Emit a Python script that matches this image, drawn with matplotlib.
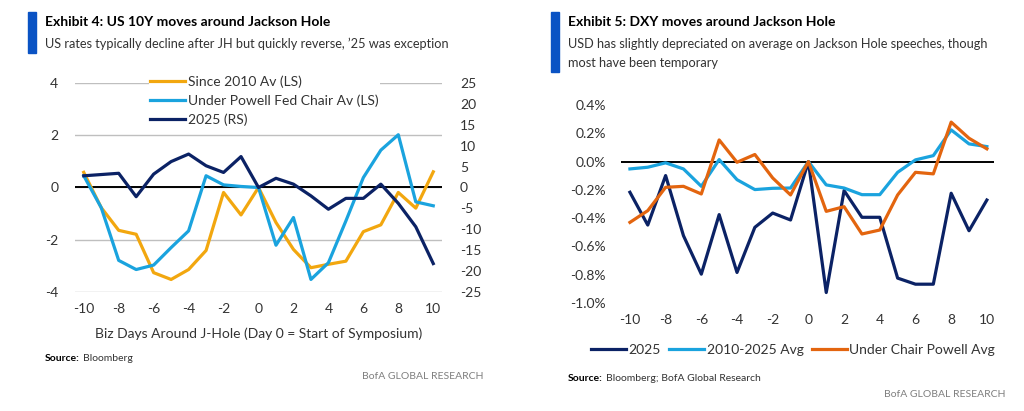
import matplotlib
matplotlib.use("Agg")
import matplotlib.pyplot as plt
from matplotlib.patches import Rectangle
from matplotlib.ticker import FuncFormatter

plt.rcParams['font.family'] = ['Lato', 'DejaVu Sans']
plt.rcParams['axes.unicode_minus'] = False

# ---------------- data ----------------
days = list(range(-10, 11))

# Exhibit 4: US 10Y (bp)
since2010_ls = [0.58, -0.77, -1.64, -1.79, -3.26, -3.52, -3.14, -2.41, -0.19, -1.05, 0.0,
                -1.34, -2.37, -3.07, -2.94, -2.82, -1.69, -1.43, -0.19, -0.79, 0.60]
powell_ls = [0.45, -0.77, -2.79, -3.14, -2.97, -2.30, -1.66, 0.45, 0.10, 0.04, 0.0,
             -2.21, -1.15, -3.52, -2.88, -1.28, 0.38, 1.43, 2.02, -0.55, -0.70]
y2025_rs = [2.8, 3.1, 3.4, -2.2, 3.2, 6.2, 8.0, 5.2, 3.6, 7.4, 0.0,
            2.2, 0.8, -2.0, -5.2, -2.6, -2.6, 0.8, -3.8, -9.4, -18.2]
left_ticks = [-4, -2, 0, 2, 4]
right_ticks = [-25, -20, -15, -10, -5, 0, 5, 10, 15, 20, 25]

# Exhibit 5: DXY (%)
dxy_2025 = [-0.217, -0.449, -0.099, -0.524, -0.796, -0.375, -0.784, -0.465, -0.364, -0.413, 0.0,
            -0.926, -0.205, -0.394, -0.394, -0.824, -0.867, -0.867, -0.224, -0.489, -0.272]
dxy_avg = [-0.052, -0.040, -0.009, -0.052, -0.175, 0.014, -0.128, -0.198, -0.189, -0.187, 0.0,
           -0.165, -0.187, -0.234, -0.234, -0.076, 0.012, 0.042, 0.224, 0.125, 0.106]
dxy_powell = [-0.430, -0.347, -0.182, -0.175, -0.229, 0.153, -0.005, 0.050, -0.116, -0.236, 0.0,
              -0.352, -0.319, -0.512, -0.484, -0.236, -0.076, -0.087, 0.279, 0.165, 0.090]
dxy_ticks = [-1.0, -0.8, -0.6, -0.4, -0.2, 0.0, 0.2, 0.4]
x_ticks = [-10, -8, -6, -4, -2, 0, 2, 4, 6, 8, 10]

# ---------------- style ----------------
W, H = 1024, 411
NAVY = '#0B2265'
LBLUE = '#1AA3DE'
GOLD = '#F2A70F'
ORANGE = '#E3650F'
TXT = '#333333'
BAR = '#0A53C4'
LW = 2.3

fig = plt.figure(figsize=(W / 100, H / 100), dpi=100)
fig.patch.set_facecolor('white')


def px_axes(x0, x1, ytop, ybot):
    return fig.add_axes([x0 / W, 1 - ybot / H, (x1 - x0) / W, (ybot - ytop) / H])


def fx(x):
    return x / W


def fy(y):
    return 1 - y / H


def clean(ax):
    for s in ax.spines.values():
        s.set_visible(False)
    ax.tick_params(length=0, labelsize=10, colors=TXT)


# ---------- headers ----------
fig.patches.append(Rectangle((fx(28), fy(53)), 8 / W, 41 / H, transform=fig.transFigure,
                             color=BAR, zorder=5))
fig.text(fx(45), fy(26), "Exhibit 4: US 10Y moves around Jackson Hole", fontsize=10,
         fontweight='bold', color='black', va='baseline')
fig.text(fx(45), fy(48), "US rates typically decline after JH but quickly reverse, \u201925 was exception",
         fontsize=9.2, color=TXT, va='baseline')

fig.patches.append(Rectangle((fx(551), fy(72)), 8 / W, 60 / H, transform=fig.transFigure,
                             color=BAR, zorder=5))
fig.text(fx(568), fy(26), "Exhibit 5: DXY moves around Jackson Hole", fontsize=10,
         fontweight='bold', color='black', va='baseline')
fig.text(fx(568), fy(48), "USD has slightly depreciated on average on Jackson Hole speeches, though",
         fontsize=9.2, color=TXT, va='baseline')
fig.text(fx(568), fy(67), "most have been temporary", fontsize=9.2, color=TXT, va='baseline')

# ---------- Exhibit 4 ----------
ax = px_axes(75, 442, 83, 292)
clean(ax)
ax.set_xlim(-10.5, 10.5)
ax.set_ylim(-4, 4)
ax.set_yticks(left_ticks)
ax.set_xticks(x_ticks)
ax.grid(axis='y', color='#BFBFBF', lw=1)
ax.set_axisbelow(True)
ax.axhline(0, color='black', lw=1.4, zorder=2)
ax.tick_params(axis='y', pad=12)
ax.tick_params(axis='x', pad=8)
ax2 = ax.twinx()
clean(ax2)
ax2.set_ylim(-25, 25)
ax2.set_yticks(right_ticks)
ax2.tick_params(axis='y', pad=13)
l1, = ax.plot(days, since2010_ls, color=GOLD, lw=LW, zorder=3, label='Since 2010 Av (LS)')
l2, = ax.plot(days, powell_ls, color=LBLUE, lw=LW, zorder=3, label='Under Powell Fed Chair Av (LS)')
l3, = ax2.plot(days, y2025_rs, color=NAVY, lw=LW, zorder=3, label='2025 (RS)')
ax.set_xlabel('Biz Days Around J-Hole (Day 0 = Start of Symposium)', fontsize=10, color=TXT, labelpad=9)
leg = ax2.legend(handles=[l1, l2, l3], loc='upper left', bbox_to_anchor=(fx(149), fy(74)),
                 bbox_transform=fig.transFigure, frameon=True, fontsize=10, handlelength=2.5,
                 handletextpad=0.2, labelspacing=0.45, borderpad=0.1, borderaxespad=0)
leg.get_frame().set_edgecolor('none')
leg.get_frame().set_facecolor('white')
leg.get_frame().set_alpha(1)
for t in leg.get_texts():
    t.set_color(TXT)

fig.text(fx(45), fy(361), "Source:", fontsize=7.5, fontweight='bold', color='black', va='baseline')
fig.text(fx(83), fy(361), "Bloomberg", fontsize=7.5, color=TXT, va='baseline')
fig.text(fx(483), fy(379), "BofA GLOBAL RESEARCH", fontsize=7.5, color='#7F7F7F', ha='right', va='baseline')

# ---------- Exhibit 5 ----------
bx = px_axes(621, 994, 105, 303)
clean(bx)
bx.set_xlim(-10.5, 10.4)
bx.set_ylim(-1.0, 0.4)
bx.set_yticks(dxy_ticks)
bx.set_xticks(x_ticks)
bx.yaxis.set_major_formatter(FuncFormatter(lambda v, p: f"{v:.1f}%"))
bx.tick_params(axis='y', pad=11)
bx.tick_params(axis='x', pad=8)
bx.axhline(0, color='black', lw=1.4, zorder=2)
m1, = bx.plot(days, dxy_2025, color=NAVY, lw=LW, zorder=3, label='2025')
m2, = bx.plot(days, dxy_avg, color=LBLUE, lw=LW, zorder=3, label='2010-2025 Avg')
m3, = bx.plot(days, dxy_powell, color=ORANGE, lw=LW, zorder=3, label='Under Chair Powell Avg')
leg2 = fig.legend(handles=[m1, m2, m3], loc='center', bbox_to_anchor=(fx(793), fy(350)),
                  ncol=3, frameon=False, fontsize=10, handlelength=2.5, handletextpad=0.2,
                  columnspacing=0.6)
for t in leg2.get_texts():
    t.set_color(TXT)

fig.text(fx(568), fy(381), "Source:", fontsize=7.5, fontweight='bold', color='black', va='baseline')
fig.text(fx(606), fy(381), "Bloomberg; BofA Global Research", fontsize=7.5, color=TXT, va='baseline')
fig.text(fx(1005), fy(397), "BofA GLOBAL RESEARCH", fontsize=7.5, color='#7F7F7F', ha='right', va='baseline')

fig.savefig('out.png', dpi=100, facecolor='white')
